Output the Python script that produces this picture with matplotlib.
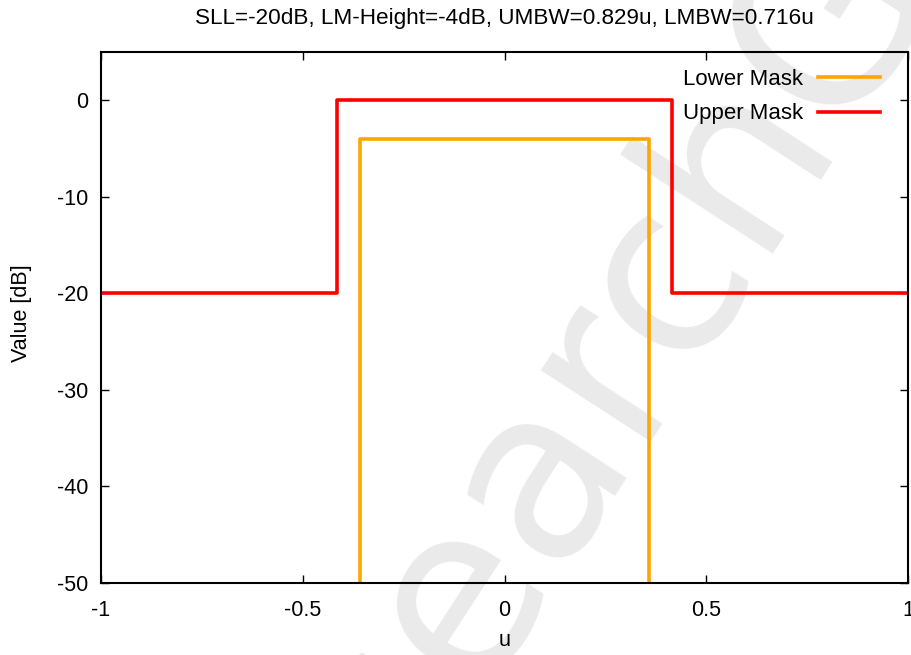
import matplotlib.pyplot as plt

plt.rcParams['font.family'] = ['Liberation Sans', 'DejaVu Sans']
plt.rcParams['axes.unicode_minus'] = False

# mask parameters
sll_db = -20
lm_height_db = -4
umbw = 0.829
lmbw = 0.716

# upper mask: sidelobe level outside the main beam, 0 dB inside
upper_u = [-1, -umbw / 2, -umbw / 2, umbw / 2, umbw / 2, 1]
upper_db = [sll_db, sll_db, 0, 0, sll_db, sll_db]

# lower mask: only defined inside the main beam
lower_u = [-lmbw / 2, -lmbw / 2, lmbw / 2, lmbw / 2]
lower_db = [-60, lm_height_db, lm_height_db, -60]

x_ticks = [-1, -0.5, 0, 0.5, 1]
x_tick_labels = ['-1', '-0.5', '0', '0.5', '1']
y_ticks = [-50, -40, -30, -20, -10, 0]

fig = plt.figure(figsize=(9.11, 6.55), dpi=100)
ax = fig.add_axes([0.1109, 0.1099, 0.8858, 0.8107])
ax.set_zorder(1)
ax.patch.set_alpha(0)

# background watermark
fig.text(0.698, 0.530, 'ResearchGate', fontsize=172, rotation=57,
         rotation_mode='anchor', ha='center', va='center',
         color='#eaeaea', family='DejaVu Sans', zorder=0)

ax.plot(lower_u, lower_db, color='#ffa500', lw=2.6, label='Lower Mask')
ax.plot(upper_u, upper_db, color='#ff0000', lw=2.6, label='Upper Mask')

ax.set_xlim(-1, 1)
ax.set_ylim(-50, 5)
ax.set_xticks(x_ticks)
ax.set_xticklabels(x_tick_labels)
ax.set_yticks(y_ticks)
ax.tick_params(direction='in', length=6, width=1, top=True, right=True,
               labelsize=15.5)
ax.tick_params(axis='x', pad=12)
ax.tick_params(axis='y', pad=9)
for s in ax.spines.values():
    s.set_linewidth(1.5)

ax.set_xlabel('u', fontsize=15.5)
ax.set_ylabel('Value [dB]', fontsize=15.5)
ax.xaxis.set_label_coords(0.5, -0.088)
ax.yaxis.set_label_coords(-0.085, 0.508)
ax.set_title('SLL=-20dB, LM-Height=-4dB, UMBW=0.829u, LMBW=0.716u',
             fontsize=16.2, pad=20)

ax.legend(loc='upper right', bbox_to_anchor=(0.9653, 0.968), frameon=False,
          markerfirst=False, fontsize=16, handlelength=2.8,
          handletextpad=0.68, labelspacing=0.6, borderaxespad=0, borderpad=0)

fig.savefig('out.png', dpi=100)
